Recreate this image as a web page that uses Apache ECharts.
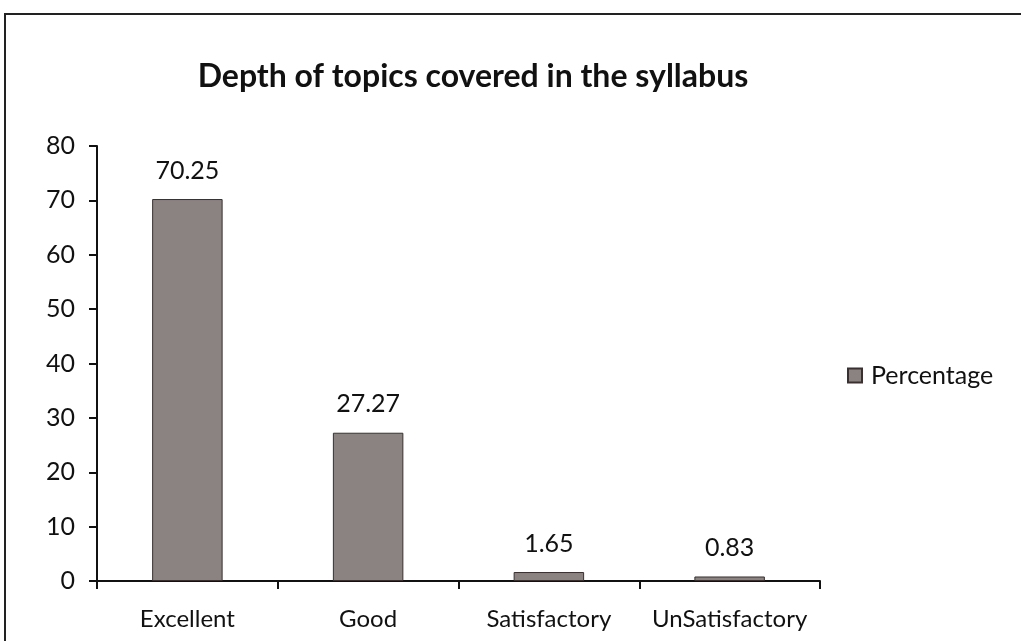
<!DOCTYPE html>
<html><head><meta charset="utf-8">
<script src="https://cdn.jsdelivr.net/npm/echarts@6/dist/echarts.min.js"></script>
<style>html,body{margin:0;padding:0;background:#fff}#c{width:1021px;height:641px}</style>
</head><body><div id="c"></div>
<script>
const categories = ['Excellent', 'Good', 'Satisfactory', 'UnSatisfactory'];
const percentage = [70.25, 27.27, 1.65, 0.83];
const yTicks = [0, 10, 20, 30, 40, 50, 60, 70, 80];

const chart = echarts.init(document.getElementById('c'));
const font = 'Lato, "Open Sans", sans-serif';
chart.setOption({
  animation: false,
  backgroundColor: '#fff',
  graphic: [{
    type: 'rect', shape: {x: 5, y: 14, width: 1040, height: 700},
    style: {fill: 'none', stroke: '#222', lineWidth: 2}, z: -1
  }],
  title: {
    text: 'Depth of topics covered in the syllabus',
    left: 468, top: 56, textAlign: 'center',
    textStyle: {fontFamily: font, fontWeight: 'bold', fontSize: 32, color: '#111'}
  },
  legend: {
    data: ['Percentage'], orient: 'vertical', left: 842, top: 358,
    itemWidth: 14, itemHeight: 14, itemGap: 6,
    icon: 'rect',
    textStyle: {fontFamily: font, fontSize: 25, color: '#111', padding: [0, 0, 0, 4]}
  },
  grid: {left: 97, top: 146, width: 723, height: 435, containLabel: false},
  xAxis: {
    type: 'category', data: categories,
    axisLine: {lineStyle: {color: '#111', width: 2}},
    axisTick: {show: true, alignWithLabel: false, interval: 0, length: 8, lineStyle: {color: '#111', width: 2}},
    axisLabel: {interval: 0, hideOverlap: false, fontFamily: font, fontSize: 24, color: '#111', margin: 26}
  },
  yAxis: {
    type: 'value', min: 0, max: 80, interval: 10,
    axisLine: {show: true, lineStyle: {color: '#111', width: 2}},
    axisTick: {show: true, length: 8, lineStyle: {color: '#111', width: 2}},
    splitLine: {show: false},
    axisLabel: {fontFamily: font, fontSize: 25, color: '#111', margin: 22,
      formatter: v => yTicks.includes(v) ? String(v) : ''}
  },
  series: [{
    name: 'Percentage', type: 'bar', data: percentage, barWidth: '39%',
    itemStyle: {color: '#8b8282', borderColor: '#3a3030', borderWidth: 1},
    label: {show: true, position: 'top', distance: 16, fontFamily: font, fontSize: 25, color: '#111',
      formatter: p => p.value.toFixed(2)}
  }]
});
</script></body></html>
